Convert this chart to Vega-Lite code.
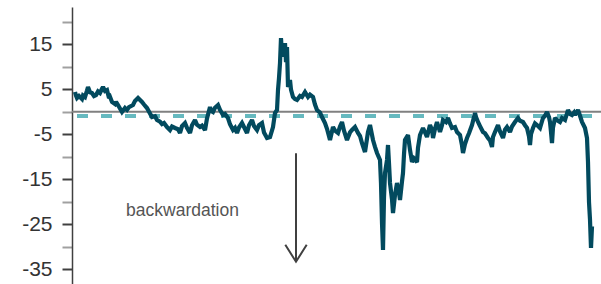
{
  "$schema": "https://vega.github.io/schema/vega-lite/v6.json",
  "autosize": "none",
  "padding": {"left": 72, "top": 7, "right": 0, "bottom": 0},
  "width": 529,
  "height": 277,
  "background": "white",
  "config": {"view": {"stroke": null}, "font": "Liberation Sans"},
  "datasets": {
    "series": [
      {"t":3,"v":4.38},{"t":4,"v":3.6},{"t":5,"v":3.04},{"t":7,"v":3.5},{"t":10,"v":2.82},{"t":11,"v":3.6},{"t":13,"v":3.27},{"t":15,"v":4.7},{"t":16,"v":5.49},{"t":18,"v":4.3},{"t":20,"v":4.16},{"t":22,"v":3.5},{"t":24,"v":3.71},{"t":26,"v":4.5},{"t":28,"v":4.16},{"t":30,"v":5.1},{"t":31,"v":5.49},{"t":33,"v":4.6},{"t":35,"v":4.82},{"t":37,"v":3.04},{"t":38,"v":3.3},{"t":40,"v":2.16},{"t":43,"v":1.71},{"t":44,"v":2.2},{"t":46,"v":1.49},{"t":50,"v":-0.07},{"t":53,"v":0.82},{"t":55,"v":0.4},{"t":57,"v":1.04},{"t":61,"v":1.49},{"t":63,"v":2.4},{"t":66,"v":3.04},{"t":70,"v":2.16},{"t":72,"v":1.6},{"t":75,"v":0.82},{"t":78,"v":-0.4},{"t":80,"v":-1.18},{"t":83,"v":-1.0},{"t":85,"v":-1.84},{"t":88,"v":-2.2},{"t":90,"v":-2.73},{"t":92,"v":-2.5},{"t":95,"v":-3.4},{"t":98,"v":-4.07},{"t":100,"v":-3.3},{"t":103,"v":-3.62},{"t":106,"v":-3.9},{"t":108,"v":-4.73},{"t":110,"v":-3.2},{"t":113,"v":-2.51},{"t":115,"v":-3.6},{"t":118,"v":-4.73},{"t":120,"v":-3.0},{"t":123,"v":-1.84},{"t":125,"v":-2.9},{"t":128,"v":-3.4},{"t":130,"v":-3.1},{"t":133,"v":-4.07},{"t":135,"v":-1.5},{"t":138,"v":1.04},{"t":139,"v":0.2},{"t":141,"v":-0.07},{"t":143,"v":0.9},{"t":146,"v":1.49},{"t":148,"v":0.4},{"t":151,"v":-0.73},{"t":153,"v":-0.5},{"t":156,"v":-1.4},{"t":158,"v":-2.8},{"t":161,"v":-4.07},{"t":163,"v":-3.6},{"t":165,"v":-4.73},{"t":167,"v":-3.5},{"t":170,"v":-2.51},{"t":172,"v":-3.4},{"t":175,"v":-4.73},{"t":177,"v":-3.0},{"t":180,"v":-1.84},{"t":182,"v":-3.2},{"t":185,"v":-4.07},{"t":187,"v":-3.0},{"t":190,"v":-2.51},{"t":192,"v":-4.6},{"t":195,"v":-5.84},{"t":198,"v":-5.62},{"t":201,"v":-3.4},{"t":203,"v":-0.29},{"t":205,"v":0.38},{"t":206,"v":4.82},{"t":207,"v":7.5},{"t":208,"v":10.82},{"t":209,"v":16.38},{"t":210,"v":12.5},{"t":211,"v":13.71},{"t":212,"v":12.2},{"t":213,"v":15.27},{"t":214,"v":11.0},{"t":215,"v":14.38},{"t":216,"v":5.49},{"t":217,"v":6.2},{"t":218,"v":7.04},{"t":219,"v":4.9},{"t":221,"v":3.27},{"t":223,"v":2.8},{"t":225,"v":2.6},{"t":228,"v":3.5},{"t":230,"v":3.27},{"t":233,"v":4.38},{"t":236,"v":3.27},{"t":238,"v":3.8},{"t":241,"v":3.27},{"t":243,"v":1.6},{"t":245,"v":0.38},{"t":248,"v":-0.2},{"t":250,"v":-1.18},{"t":253,"v":-2.51},{"t":255,"v":-3.8},{"t":258,"v":-6.29},{"t":261,"v":-3.4},{"t":263,"v":-4.2},{"t":266,"v":-4.73},{"t":268,"v":-3.3},{"t":270,"v":-2.29},{"t":272,"v":-4.2},{"t":275,"v":-6.29},{"t":278,"v":-4.6},{"t":280,"v":-4.07},{"t":283,"v":-3.4},{"t":286,"v":-4.73},{"t":288,"v":-5.4},{"t":290,"v":-6.96},{"t":293,"v":-8.96},{"t":296,"v":-4.5},{"t":298,"v":-2.96},{"t":301,"v":-6.29},{"t":303,"v":-7.8},{"t":305,"v":-9.18},{"t":308,"v":-10.73},{"t":309,"v":-16.0},{"t":310,"v":-24.73},{"t":311,"v":-30.73},{"t":312,"v":-19.0},{"t":313,"v":-13.62},{"t":315,"v":-10.73},{"t":316,"v":-7.4},{"t":317,"v":-11.5},{"t":318,"v":-15.84},{"t":320,"v":-19.5},{"t":321,"v":-22.51},{"t":323,"v":-18.5},{"t":325,"v":-15.84},{"t":327,"v":-18.0},{"t":328,"v":-19.62},{"t":330,"v":-15.5},{"t":331,"v":-13.62},{"t":332,"v":-9.5},{"t":333,"v":-6.29},{"t":336,"v":-5.18},{"t":338,"v":-8.5},{"t":340,"v":-11.18},{"t":342,"v":-10.4},{"t":345,"v":-11.18},{"t":346,"v":-8.0},{"t":348,"v":-5.18},{"t":351,"v":-3.62},{"t":353,"v":-4.6},{"t":355,"v":-5.62},{"t":358,"v":-2.96},{"t":360,"v":-4.0},{"t":361,"v":-5.84},{"t":363,"v":-3.8},{"t":365,"v":-2.29},{"t":368,"v":-4.51},{"t":370,"v":-3.0},{"t":371,"v":-1.84},{"t":374,"v":-2.3},{"t":376,"v":-1.4},{"t":378,"v":-2.6},{"t":380,"v":-3.62},{"t":383,"v":-3.4},{"t":385,"v":-4.51},{"t":388,"v":-5.18},{"t":390,"v":-7.5},{"t":391,"v":-9.18},{"t":393,"v":-7.2},{"t":395,"v":-5.84},{"t":397,"v":-4.8},{"t":400,"v":-2.96},{"t":403,"v":-0.29},{"t":404,"v":-1.2},{"t":406,"v":-2.29},{"t":408,"v":-3.2},{"t":411,"v":-4.51},{"t":413,"v":-4.8},{"t":416,"v":-5.84},{"t":418,"v":-6.4},{"t":420,"v":-7.84},{"t":421,"v":-5.6},{"t":423,"v":-4.51},{"t":426,"v":-2.96},{"t":428,"v":-4.4},{"t":431,"v":-5.84},{"t":433,"v":-4.0},{"t":435,"v":-3.4},{"t":438,"v":-4.51},{"t":440,"v":-3.3},{"t":443,"v":-2.29},{"t":446,"v":-1.4},{"t":448,"v":-2.0},{"t":451,"v":-2.29},{"t":453,"v":-3.0},{"t":455,"v":-3.62},{"t":457,"v":-5.5},{"t":458,"v":-7.4},{"t":459,"v":-5.0},{"t":461,"v":-3.62},{"t":463,"v":-2.6},{"t":465,"v":-2.96},{"t":468,"v":-3.62},{"t":471,"v":-1.4},{"t":473,"v":-0.9},{"t":475,"v":-0.07},{"t":477,"v":-1.2},{"t":478,"v":-2.29},{"t":479,"v":-4.5},{"t":480,"v":-6.96},{"t":481,"v":-3.5},{"t":483,"v":-1.4},{"t":486,"v":-2.0},{"t":488,"v":-2.29},{"t":490,"v":-1.4},{"t":493,"v":-1.84},{"t":496,"v":0.38},{"t":498,"v":-0.5},{"t":500,"v":-0.73},{"t":502,"v":-0.2},{"t":503,"v":-0.73},{"t":506,"v":0.38},{"t":508,"v":-0.9},{"t":510,"v":-2.29},{"t":513,"v":-3.62},{"t":515,"v":-5.84},{"t":516,"v":-11.18},{"t":517,"v":-20.07},{"t":518,"v":-24.0},{"t":519,"v":-30.29},{"t":520,"v":-25.5}
    ],
    "zero": [{"v": 0}],
    "dash": [{"t": 5, "t2": 520, "v": -0.96}],
    "shaft": [{"t": 224, "v": -9.24, "v2": -33.33}],
    "head": [{"o": 1, "t": 213.3, "v": -29.58}, {"o": 2, "t": 224, "v": -33.33}, {"o": 3, "t": 234.7, "v": -29.58}],
    "label": [{"t": 110.5, "v": -23.18, "text": "backwardation"}]
  },
  "layer": [
    {
      "data": {"name": "zero"},
      "mark": {"type": "rule", "color": "#808080", "strokeWidth": 2},
      "encoding": {
        "y": {
          "field": "v", "type": "quantitative",
          "scale": {"domain": [-38.29, 23.27], "nice": false, "zero": false},
          "axis": {
            "title": null,
            "values": [20, 15, 10, 5, 0, -5, -10, -15, -20, -25, -30, -35],
            "tickCount": 50,
            "labelExpr": "(datum.value == 15 || datum.value == 5 || datum.value == -5 || datum.value == -15 || datum.value == -25 || datum.value == -35) ? (datum.value < 0 ? '-' + abs(datum.value) : '' + datum.value) : ''",
            "labelOverlap": false,
            "labelFont": "Liberation Sans",
            "labelFontSize": 21,
            "labelColor": "#333333",
            "labelPadding": 10,
            "tickSize": 10,
            "tickWidth": 2,
            "tickColor": {"condition": {"test": "datum.value == 15 || datum.value == 5 || datum.value == -5 || datum.value == -15 || datum.value == -25 || datum.value == -35", "value": "#404040"}, "value": "#a0a0a0"},
            "domainColor": "#404040",
            "domainWidth": 1.5,
            "grid": false
          }
        }
      }
    },
    {
      "data": {"name": "dash"},
      "mark": {"type": "rule", "color": "#66b9bf", "strokeWidth": 4, "strokeDash": [11, 13]},
      "encoding": {
        "x": {"field": "t", "type": "quantitative", "scale": {"domain": [0, 529], "nice": false, "zero": false}, "axis": null},
        "x2": {"field": "t2"},
        "y": {"field": "v", "type": "quantitative"}
      }
    },
    {
      "data": {"name": "series"},
      "mark": {"type": "line", "color": "#024a5e", "strokeWidth": 4.2, "strokeJoin": "miter", "strokeMiterLimit": 2},
      "encoding": {
        "x": {"field": "t", "type": "quantitative"},
        "y": {"field": "v", "type": "quantitative"}
      }
    },
    {
      "data": {"name": "shaft"},
      "mark": {"type": "rule", "color": "#404040", "strokeWidth": 2},
      "encoding": {
        "x": {"field": "t", "type": "quantitative"},
        "y": {"field": "v", "type": "quantitative"},
        "y2": {"field": "v2"}
      }
    },
    {
      "data": {"name": "head"},
      "mark": {"type": "line", "color": "#404040", "strokeWidth": 2},
      "encoding": {
        "x": {"field": "t", "type": "quantitative"},
        "y": {"field": "v", "type": "quantitative"},
        "order": {"field": "o"}
      }
    },
    {
      "data": {"name": "label"},
      "mark": {"type": "text", "font": "Liberation Sans", "fontSize": 17.5, "color": "#555555", "align": "center", "baseline": "alphabetic"},
      "encoding": {
        "x": {"field": "t", "type": "quantitative"},
        "y": {"field": "v", "type": "quantitative"},
        "text": {"field": "text"}
      }
    }
  ]
}
